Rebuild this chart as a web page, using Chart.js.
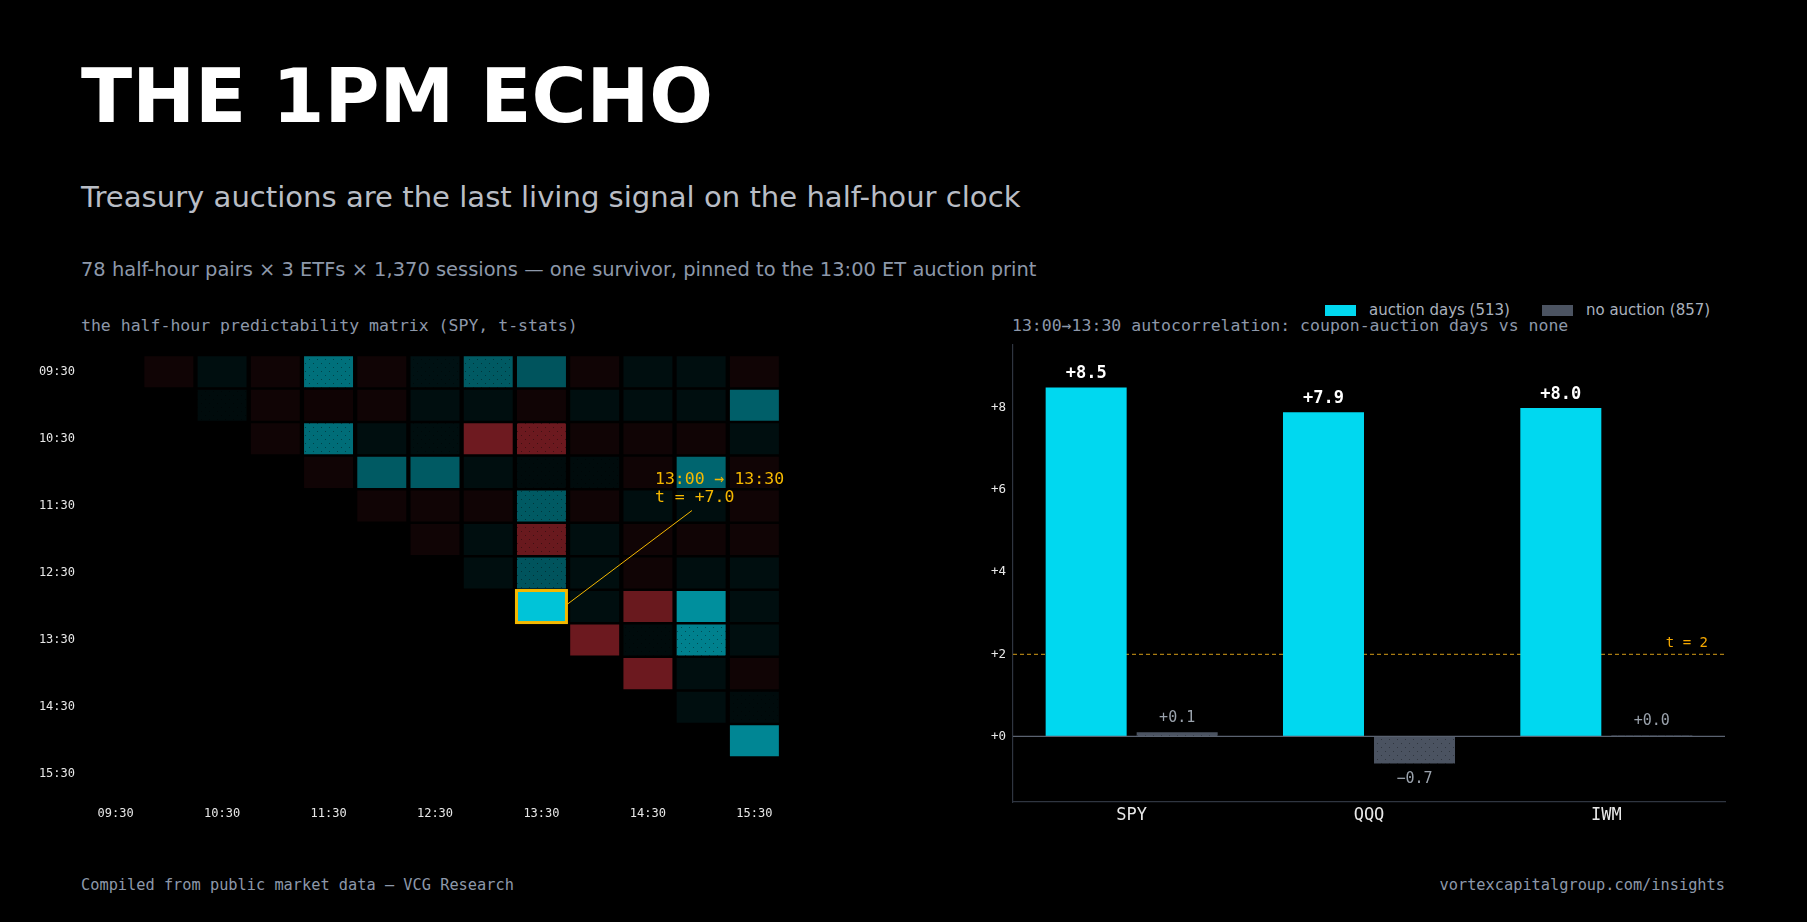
<!DOCTYPE html>
<html lang="en">
<head>
  <meta charset="UTF-8">
  <title>The 1PM Echo</title>
  <script src="https://cdn.jsdelivr.net/npm/chart.js"></script>
  <style>
    body {
      margin: 0;
      background: #000;
      width: 1807px;
      height: 922px;
      overflow: hidden;
      position: relative;
      font-family: 'DejaVu Sans', sans-serif;
    }
    .abs { position: absolute; white-space: nowrap; line-height: 1; }
    .title { left: 81px; top: 59px; font-size: 75px; font-weight: bold; color: #fff; }
    .sub { left: 81px; top: 183px; font-size: 29.1px; color: #b9bdc5; }
    .sub2 { left: 81px; top: 260px; font-size: 19.45px; color: #8d98aa; }
    .mono { font-family: 'DejaVu Sans Mono', monospace; }
    .panel-title { top: 317.5px; font-size: 16.5px; color: #8d98aa; }
    .foot { top: 878px; font-size: 15.3px; color: #8d98aa; }
    .legend { top: 303px; font-size: 15px; color: #aab2be; display: flex; align-items: center; }
    .sw { display: inline-block; width: 31px; height: 11px; margin-right: 13px; }
    .box { position: absolute; }
  </style>
</head>
<body>
  <div class="abs title">THE 1PM ECHO</div>
  <div class="abs sub">Treasury auctions are the last living signal on the half-hour clock</div>
  <div class="abs sub2">78 half-hour pairs × 3 ETFs × 1,370 sessions — one survivor, pinned to the 13:00 ET auction print</div>

  <div class="abs mono panel-title" style="left:81px">the half-hour predictability matrix (SPY, t-stats)</div>
  <div class="abs mono panel-title" style="left:1012px">13:00→13:30 autocorrelation: coupon-auction days vs none</div>

  <div class="abs legend" style="left:1325px">
    <span class="sw" style="background:#00d8f0"></span>auction days (513)
    <span class="sw" id="graySwatch" style="background:#4b5361; margin-left:32px"></span>no auction (857)
  </div>

  <div class="box" style="left:0; top:330px; width:800px; height:500px;">
    <canvas id="matrixChart"></canvas>
  </div>
  <div class="box" style="left:900px; top:330px; width:860px; height:500px;">
    <canvas id="auctionChart"></canvas>
  </div>

  <div class="abs mono foot" style="left:81px">Compiled from public market data — VCG Research</div>
  <div class="abs mono foot" style="right:82px">vortexcapitalgroup.com/insights</div>

  <script>
    // half-hour clock (rows = from, cols = to)
    const times = ['09:30', '10:00', '10:30', '11:00', '11:30', '12:00', '12:30',
                   '13:00', '13:30', '14:00', '14:30', '15:00', '15:30'];

    // t-stats, row r holds the pairs r -> r+1 .. 12
    const tRow0  = [-0.5, 0.5, -0.5, 4.0, -0.5, 0.6, 3.2, 3.0, -0.5, 0.5, 0.5, -0.5];
    const tRow1  = [0.4, -0.5, -0.45, -0.5, 0.5, 0.5, -0.5, 0.5, 0.5, 0.5, 3.4];
    const tRow2  = [-0.5, 3.9, 0.5, 0.5, -3.35, -3.3, -0.5, -0.5, -0.5, 0.5];
    const tRow3  = [-0.5, 3.2, 3.2, 0.5, 0.4, 0.4, -0.5, 3.6, -0.5];
    const tRow4  = [-0.5, -0.5, -0.5, 3.2, -0.5, 0.5, 0.5, -0.5];
    const tRow5  = [-0.5, 0.5, -3.2, 0.5, -0.5, -0.5, -0.5];
    const tRow6  = [0.5, 3.0, 0.5, -0.5, 0.5, 0.5];
    const tRow7  = [7.0, 0.5, -3.2, 5.1, 0.5];
    const tRow8  = [-3.3, 0.4, 4.6, 0.5];
    const tRow9  = [-3.3, 0.5, -0.5];
    const tRow10 = [0.5, 0.4];
    const tRow11 = [4.8];
    const tRows = [tRow0, tRow1, tRow2, tRow3, tRow4, tRow5, tRow6, tRow7, tRow8, tRow9, tRow10, tRow11];

    // cells drawn with the dotted hatch [row, col]
    const stippled = [[0, 4], [0, 6], [0, 7], [1, 2], [2, 4], [2, 6], [2, 8], [3, 8], [3, 9],
                      [4, 8], [5, 8], [6, 8], [8, 10], [8, 11], [10, 12]];

    // highlighted pair 13:00 -> 13:30
    const highlight = { row: 7, col: 8 };
    const highlightText = ['13:00 → 13:30', 't = +7.0'];

    // right panel
    const etfs = ['SPY', 'QQQ', 'IWM'];
    const auctionDays = [8.5, 7.9, 8.0];
    const noAuction = [0.1, -0.66, 0.02];
    const barTicks = [0, 2, 4, 6, 8];
    const threshold = 2;

    const MONO = "'DejaVu Sans Mono', monospace";
    const POS = [0, 196, 216];
    const NEG = [230, 54, 66];

    function cellColor(v) {
      const k = Math.min(Math.abs(v) / 7, 1);
      const c = v >= 0 ? POS : NEG;
      return `rgb(${Math.round(c[0] * k)},${Math.round(c[1] * k)},${Math.round(c[2] * k)})`;
    }

    function stipple(base, dot) {
      const c = document.createElement('canvas');
      c.width = 8; c.height = 8;
      const g = c.getContext('2d');
      g.fillStyle = base;
      g.fillRect(0, 0, 8, 8);
      g.fillStyle = dot;
      g.fillRect(1, 1, 1, 1);
      g.fillRect(5, 5, 1, 1);
      return g.createPattern(c, 'repeat');
    }

    const isStippled = (r, c) => stippled.some(p => p[0] === r && p[1] === c);

    // one floating-bar dataset per row
    const halfH = 0.4625;
    const matrixDatasets = tRows.map((vals, r) => {
      const data = times.map((t, c) => (c > r ? [r - halfH, r + halfH] : null));
      const colors = times.map((t, c) => {
        if (c <= r) return 'rgba(0,0,0,0)';
        const col = cellColor(vals[c - r - 1]);
        return isStippled(r, c) ? stipple(col, 'rgba(0,0,0,0.4)') : col;
      });
      return {
        label: times[r],
        data: data,
        backgroundColor: colors,
        borderWidth: 0,
        grouped: false,
        barPercentage: 0.92,
        categoryPercentage: 1.0
      };
    });

    const highlightPlugin = {
      id: 'highlight',
      afterDatasetsDraw(chart) {
        const el = chart.getDatasetMeta(highlight.row).data[highlight.col];
        if (!el) return;
        const ctx = chart.ctx;
        const top = Math.min(el.y, el.base), h = Math.abs(el.base - el.y);
        const left = el.x - el.width / 2, right = el.x + el.width / 2;
        const cy = top + h / 2;
        ctx.save();
        ctx.strokeStyle = '#f5b800';
        ctx.lineWidth = 3;
        ctx.strokeRect(left - 0.5, top - 0.5, el.width + 1, h + 1);
        ctx.lineWidth = 1;
        ctx.beginPath();
        ctx.moveTo(right + 1, cy - 2);
        ctx.lineTo(right + 126, cy - 96);
        ctx.stroke();
        ctx.fillStyle = '#f5b800';
        ctx.font = '16.5px ' + MONO;
        ctx.textBaseline = 'middle';
        ctx.textAlign = 'left';
        ctx.fillText(highlightText[0], right + 89, cy - 127);
        ctx.fillText(highlightText[1], right + 89, cy - 109);
        ctx.restore();
      }
    };

    new Chart(document.getElementById('matrixChart'), {
      type: 'bar',
      data: { labels: times, datasets: matrixDatasets },
      options: {
        responsive: true,
        maintainAspectRatio: false,
        animation: false,
        layout: { padding: { left: 0, right: 19, top: 25, bottom: 0 } },
        plugins: { legend: { display: false }, tooltip: { enabled: false } },
        scales: {
          x: {
            grid: { display: false, drawTicks: false },
            border: { display: false },
            ticks: {
              autoSkip: false,
              maxRotation: 0,
              padding: 16,
              color: '#e8e8e8',
              font: { family: MONO, size: 12 },
              callback: (v, i) => (i % 2 === 0 ? times[i] : '')
            },
            afterFit: s => { s.height = 39; }
          },
          y: {
            type: 'linear',
            reverse: true,
            min: -0.5,
            max: 12.5,
            grid: { display: false, drawTicks: false },
            border: { display: false },
            afterBuildTicks: s => { s.ticks = times.map((t, i) => ({ value: i })).filter(t => t.value % 2 === 0); },
            ticks: {
              padding: 14,
              color: '#e8e8e8',
              font: { family: MONO, size: 12 },
              callback: v => times[v]
            },
            afterFit: s => { s.width = 89; }
          }
        }
      },
      plugins: [highlightPlugin]
    });

    // right panel
    const grayBase = '#4b5361';
    const grayFill = stipple(grayBase, 'rgba(0,0,0,0.35)');
    document.getElementById('graySwatch').style.background = grayBase;

    const fmt = v => (v < 0 ? '\u2212' : '+') + Math.abs(v).toFixed(1);

    const barAnnotations = {
      id: 'barAnnotations',
      beforeDatasetsDraw(chart) {
        const { ctx, chartArea, scales } = chart;
        const yt = scales.y.getPixelForValue(threshold);
        ctx.save();
        ctx.strokeStyle = '#a97c12';
        ctx.lineWidth = 1.2;
        ctx.setLineDash([4, 3]);
        ctx.beginPath();
        ctx.moveTo(chartArea.left, yt);
        ctx.lineTo(chartArea.right, yt);
        ctx.stroke();
        ctx.setLineDash([]);
        ctx.fillStyle = '#f5a800';
        ctx.font = '14px ' + MONO;
        ctx.textAlign = 'right';
        ctx.textBaseline = 'middle';
        ctx.fillText('t = ' + threshold, chartArea.right - 17, yt - 11);
        ctx.restore();
      },
      afterDatasetsDraw(chart) {
        const { ctx, chartArea, scales } = chart;
        const y0 = scales.y.getPixelForValue(0);
        ctx.save();
        ctx.strokeStyle = '#5a6270';
        ctx.lineWidth = 1.2;
        ctx.beginPath();
        ctx.moveTo(chartArea.left, y0);
        ctx.lineTo(chartArea.right, y0);
        ctx.stroke();
        ctx.textAlign = 'center';
        ctx.textBaseline = 'middle';
        chart.data.datasets.forEach((ds, di) => {
          chart.getDatasetMeta(di).data.forEach((el, i) => {
            const v = ds.data[i];
            if (di === 0) {
              ctx.fillStyle = '#ffffff';
              ctx.font = 'bold 17px ' + MONO;
              ctx.fillText(fmt(v), el.x, el.y - 14);
            } else {
              ctx.fillStyle = '#9aa2ac';
              ctx.font = '15px ' + MONO;
              ctx.fillText(fmt(v), el.x, v >= 0 ? el.y - 14 : el.y + 16);
            }
          });
        });
        ctx.restore();
      }
    };

    new Chart(document.getElementById('auctionChart'), {
      type: 'bar',
      data: {
        labels: etfs,
        datasets: [
          { label: 'auction days (513)', data: auctionDays, backgroundColor: '#00d8f0', borderWidth: 0 },
          { label: 'no auction (857)', data: noAuction, backgroundColor: grayFill, borderWidth: 0 }
        ]
      },
      options: {
        responsive: true,
        maintainAspectRatio: false,
        animation: false,
        categoryPercentage: 0.767,
        barPercentage: 0.89,
        layout: { padding: { left: 0, right: 35, top: 11, bottom: 0 } },
        plugins: { legend: { display: false }, tooltip: { enabled: false } },
        scales: {
          x: {
            grid: { display: false, drawTicks: false },
            border: { display: true, color: '#2f3540', width: 1.2 },
            ticks: { color: '#e8e8e8', padding: 3, font: { family: MONO, size: 17 } },
            afterFit: s => { s.height = 28; }
          },
          y: {
            min: -1.6,
            max: 9.55,
            grid: { display: false, drawTicks: false },
            border: { display: true, color: '#2f3540', width: 1.2 },
            afterBuildTicks: s => { s.ticks = barTicks.map(v => ({ value: v })); },
            ticks: {
              padding: 7,
              color: '#e8e8e8',
              font: { family: MONO, size: 12.5 },
              callback: v => '+' + v
            },
            afterFit: s => { s.width = 113; }
          }
        }
      },
      plugins: [barAnnotations]
    });
  </script>
</body>
</html>
